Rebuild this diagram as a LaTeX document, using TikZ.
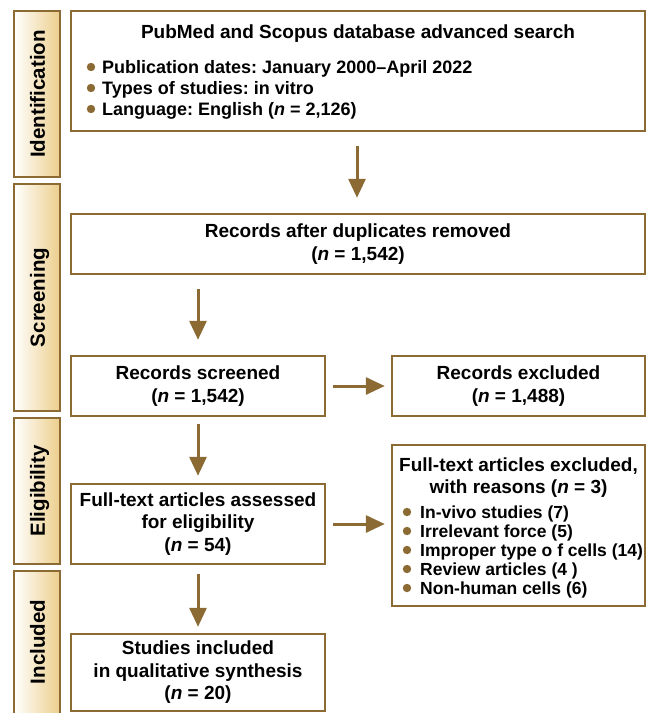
\documentclass[tikz,border=0pt]{standalone}
\usepackage{fontspec}
\setmainfont{Liberation Sans}
\usetikzlibrary{arrows.meta,calc}
\definecolor{brn}{RGB}{139,106,52}
\definecolor{tanc}{RGB}{236,206,140}
\frenchspacing
\begin{document}
\frenchspacing
\begin{tikzpicture}[x=1pt,y=-1pt,
  box/.style={draw=brn, line width=2.4pt, fill=white, inner sep=0pt, align=center,
    font=\bfseries\fontsize{19}{22.5}\selectfont},
  sidebar/.style={draw=brn, line width=2.2pt, left color=white, right color=tanc, inner sep=0pt},
  sidelabel/.style={rotate=90, anchor=base, inner sep=0pt, font=\bfseries\fontsize{20.5}{22}\selectfont},
  ttl/.style={inner sep=0pt, font=\bfseries\fontsize{19}{22}\selectfont},
  bul/.style={inner sep=0pt, anchor=base west, font=\bfseries\fontsize{18}{21}\selectfont},
  bulsm/.style={inner sep=0pt, anchor=base west, font=\bfseries\fontsize{17.5}{19}\selectfont},
  dot/.style={fill=brn},
  arr/.style={draw=brn, line width=3pt, -{Triangle[length=19pt,width=17pt]}}
]
\useasboundingbox (0,0) rectangle (646,713);

% side bars
\node[sidebar, minimum width=46pt, minimum height=166pt] (idbar) at (37,94) {};
\node[sidebar, minimum width=46pt, minimum height=227pt] (scbar) at (37,297.5) {};
\node[sidebar, minimum width=46pt, minimum height=146pt] (elbar) at (37,491) {};
\node[sidebar, minimum width=46pt, minimum height=146pt] (inbar) at (37,644) {};
\node[sidelabel] (idlab) at (45,94) {Identification};
\node[sidelabel] (sclab) at (45,297.5) {Screening};
\node[sidelabel] (ellab) at (45,491) {Eligibility};
\node[sidelabel] (inlab) at (45,642) {Included};

% boxes
\node[box, minimum width=574pt, minimum height=120pt] (box1) at (358,71) {};
\node[box, minimum width=574pt, minimum height=60pt] (box2) at (358,244)
  {Records after duplicates removed\\(\textit{n} = 1,542)};
\node[box, minimum width=254pt, minimum height=60pt] (screened) at (198,386)
  {Records screened\\(\textit{n} = 1,542)};
\node[box, minimum width=253pt, minimum height=60pt] (excluded) at (518.5,386)
  {Records excluded\\(\textit{n} = 1,488)};
\node[box, minimum width=254pt, minimum height=80pt] (assessed) at (198,524)
  {Full-text articles assessed\\for eligibility\\(\textit{n} = 54)};
\node[box, minimum width=253pt, minimum height=161pt] (reasons) at (518.5,525.5) {};
\node[box, minimum width=254pt, minimum height=77pt] (studies) at (198,672.5)
  {Studies included\\in qualitative synthesis\\(\textit{n} = 20)};

% box1 contents
\node[ttl, anchor=base] (t1) at (358,38) {PubMed and Scopus database advanced search};
\node[bul] (b11) at (102,73.5) {Publication dates: January 2000–April 2022};
\node[bul] (b12) at (102,94.5) {Types of studies: in vitro};
\node[bul] (b13) at (102,115.5) {Language: English (\textit{n} = 2,126)};
\fill[dot] (91,67) circle (4.2pt);
\fill[dot] (91,88) circle (4.2pt);
\fill[dot] (91,109) circle (4.2pt);

% reasons contents
\node[ttl, anchor=base] (t2a) at (518.5,471) {Full-text articles excluded,};
\node[ttl, anchor=base] (t2b) at (518.5,493) {with reasons (\textit{n} = 3)};
\node[bulsm] (r1) at (420,518) {In-vivo studies (7)};
\node[bulsm] (r2) at (420,537) {Irrelevant force (5)};
\node[bulsm] (r3) at (420,556) {Improper type o f cells (14)};
\node[bulsm] (r4) at (420,575) {Review articles (4 )};
\node[bulsm] (r5) at (420,594) {Non-human cells (6)};
\foreach \yy in {512,531,550,569,588} \fill[dot] (407,\yy) circle (4.2pt);

% arrows
\draw[arr] ($(box1.south)+(-1,14)$) -- ($(box2.north)+(-1,-15)$);
\draw[arr] ($(box2.south -| screened.north)+(0,14)$) -- ($(screened.north)+(0,-15)$);
\draw[arr] ($(screened.east)+(7,0)$) -- ($(excluded.west)+(-6,0)$);
\draw[arr] ($(screened.south)+(0,7)$) -- ($(assessed.north)+(0,-7)$);
\draw[arr] ($(assessed.east)+(7,0)$) -- ($(assessed.east -| reasons.west)+(-6,0)$);
\draw[arr] ($(assessed.south)+(0,9)$) -- ($(studies.north)+(0,-6)$);
\end{tikzpicture}
\end{document}
